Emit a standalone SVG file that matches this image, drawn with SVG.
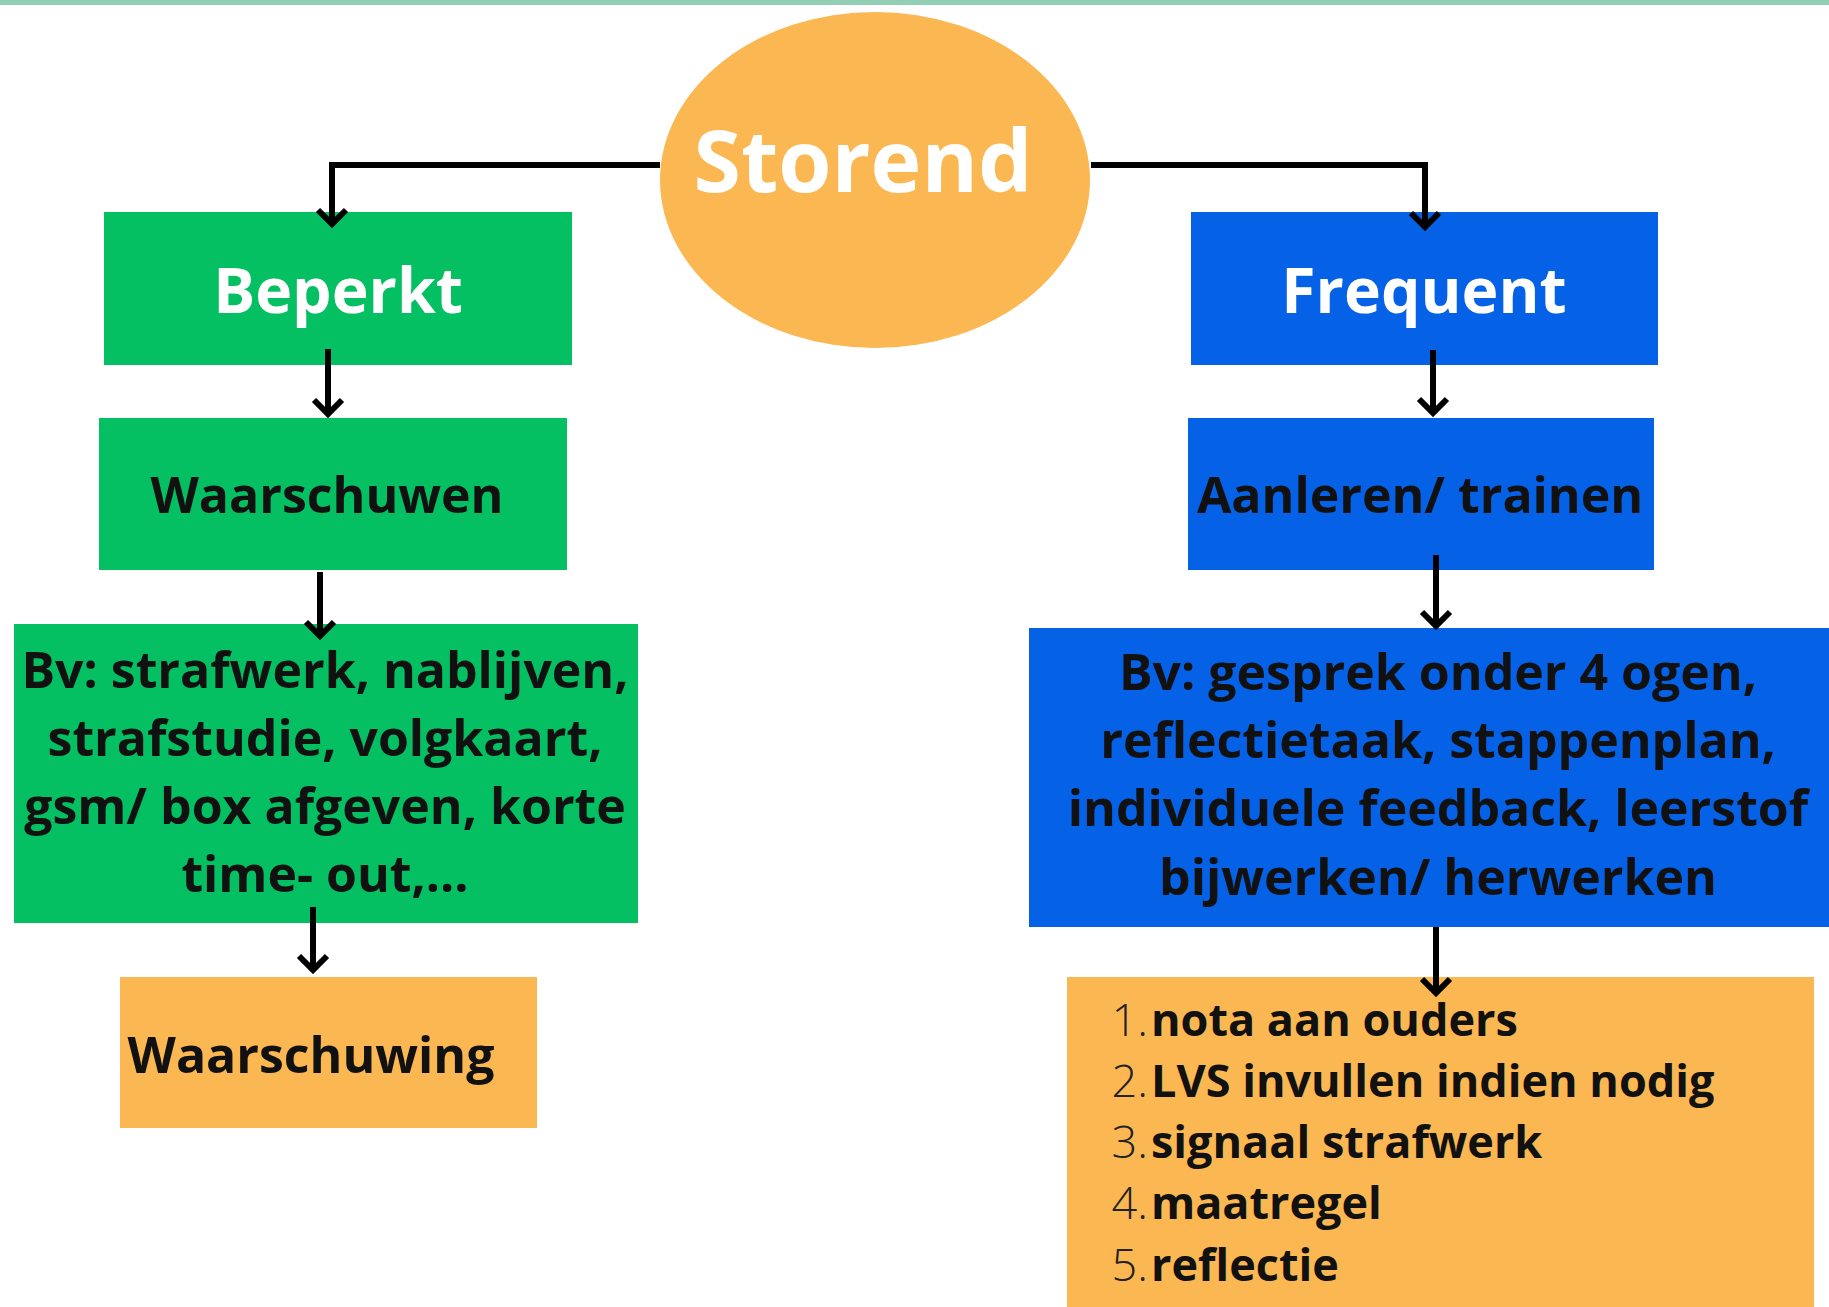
<svg xmlns="http://www.w3.org/2000/svg" width="1829" height="1307" viewBox="0 0 1829 1307">
<style>
.t{font-family:"Open Sans","Noto Sans","Liberation Sans",sans-serif;font-weight:700;text-anchor:middle}
.w{fill:#ffffff}
.k{fill:#111111}
.g{fill:#05bf63}
.b{fill:#0561e6}
.o{fill:#fbb752}
.c{fill:none;stroke:#000;stroke-width:6}
.num{font-weight:300;fill:#222}
</style>
<defs>
<marker id="ar" viewBox="-22 -20 26 40" markerWidth="26" markerHeight="40" refX="0" refY="0" orient="auto" markerUnits="userSpaceOnUse">
<path d="M-14,-14 L0,0 L-14,14" fill="none" stroke="#000" stroke-width="6" stroke-linejoin="miter"/>
</marker>
</defs>
<rect x="0" y="0" width="1829" height="1307" fill="#ffffff"/>
<rect x="0" y="0" width="1829" height="5" fill="#93cfb4"/>
<g id="storend">
<ellipse class="o" cx="875" cy="180" rx="215" ry="168"/>
<text class="t w" x="863" y="192" font-size="86">Storend</text>
</g>
<g id="beperkt">
<rect class="g" x="104" y="212" width="468" height="153"/>
<text class="t w" x="338" y="313" font-size="62.5">Beperkt</text>
</g>
<g id="frequent">
<rect class="b" x="1191" y="212" width="467" height="153"/>
<text class="t w" x="1424" y="313" font-size="62.5">Frequent</text>
</g>
<g id="waarschuwen">
<rect class="g" x="99" y="418" width="468" height="152"/>
<text class="t k" x="327" y="513" font-size="50">Waarschuwen</text>
</g>
<g id="aanleren">
<rect class="b" x="1188" y="418" width="466" height="152"/>
<text class="t k" x="1420" y="513" font-size="50">Aanleren/ trainen</text>
</g>
<g id="bv-groen">
<rect class="g" x="14" y="624" width="624" height="299"/>
<text class="t k" x="325" y="688" font-size="50">Bv: strafwerk, nablijven,</text>
<text class="t k" x="325" y="756" font-size="50">strafstudie, volgkaart,</text>
<text class="t k" x="325" y="824" font-size="50">gsm/ box afgeven, korte</text>
<text class="t k" x="325" y="892" font-size="50">time- out,...</text>
</g>
<g id="waarschuwing">
<rect class="o" x="120" y="977" width="417" height="151"/>
<text class="t k" x="311" y="1073" font-size="50">Waarschuwing</text>
</g>
<g id="bv-blauw">
<rect class="b" x="1029" y="628" width="800" height="299"/>
<text class="t k" x="1438" y="690" font-size="50">Bv: gesprek onder 4 ogen,</text>
<text class="t k" x="1438" y="758" font-size="50">reflectietaak, stappenplan,</text>
<text class="t k" x="1438" y="826" font-size="50">individuele feedback, leerstof</text>
<text class="t k" x="1438" y="895" font-size="50">bijwerken/ herwerken</text>
</g>
<g id="lijst">
<rect class="o" x="1067" y="977" width="747" height="330"/>
<g font-family="Open Sans, Noto Sans, Liberation Sans, sans-serif" font-size="45">
<text x="1148" y="1036" text-anchor="end" class="num">1.</text>
<text x="1151" y="1036" font-weight="700" fill="#111">nota aan ouders</text>
<text x="1148" y="1097" text-anchor="end" class="num">2.</text>
<text x="1151" y="1097" font-weight="700" fill="#111">LVS invullen indien nodig</text>
<text x="1148" y="1158" text-anchor="end" class="num">3.</text>
<text x="1151" y="1158" font-weight="700" fill="#111">signaal strafwerk</text>
<text x="1148" y="1219" text-anchor="end" class="num">4.</text>
<text x="1151" y="1219" font-weight="700" fill="#111">maatregel</text>
<text x="1148" y="1281" text-anchor="end" class="num">5.</text>
<text x="1151" y="1281" font-weight="700" fill="#111">reflectie</text>
</g>
</g>
<g id="connectors">
<path class="c" d="M660,165 H332 V224" marker-end="url(#ar)"/>
<path class="c" d="M1091,165 H1425 V227" marker-end="url(#ar)"/>
<path class="c" d="M328,349 V414" marker-end="url(#ar)"/>
<path class="c" d="M1433,350 V413" marker-end="url(#ar)"/>
<path class="c" d="M320,572 V636" marker-end="url(#ar)"/>
<path class="c" d="M1436,555 V626" marker-end="url(#ar)"/>
<path class="c" d="M313,907 V970" marker-end="url(#ar)"/>
<path class="c" d="M1436,927 V993" marker-end="url(#ar)"/>
</g>
</svg>
